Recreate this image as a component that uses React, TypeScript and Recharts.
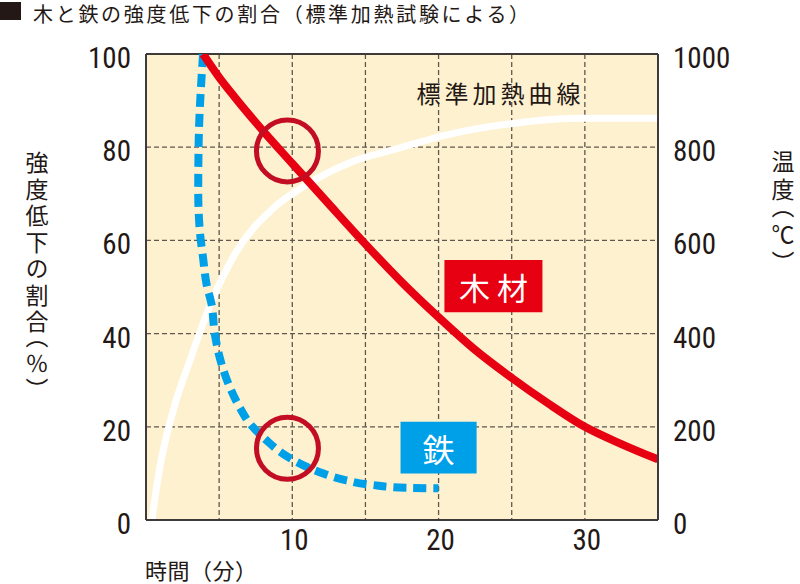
import React from 'react';
import {
  LineChart,
  Line,
  XAxis,
  YAxis,
  CartesianGrid,
  ReferenceLine,
  ReferenceDot,
  ReferenceArea,
} from 'recharts';

// ---- data ----
const woodTime = [3.9, 5, 6, 8, 10, 12.5, 15, 17.5, 20, 22.5, 25, 27.5, 30, 32.5, 35];
const woodStrength = [100, 95, 91, 83.5, 76.5, 67.8, 59.2, 51, 43.5, 36.5, 30.5, 25, 20, 16.3, 13];

const ironTime = [3.9, 3.6, 3.57, 3.68, 3.9, 4.14, 4.48, 4.7, 5.16, 5.73, 6.4, 7.1, 8.23, 9.37, 10.73, 12.1, 13.7, 15.5, 17.8, 20];
const ironStrength = [100, 81, 70.5, 62, 56.3, 50.6, 46.3, 40, 33.5, 28.5, 24.2, 20.7, 17.1, 14.2, 11.8, 10, 8.5, 7.5, 6.9, 6.8];

const heatTime = [0.4, 0.95, 1.86, 3.0, 4.5, 6.2, 8.7, 11.0, 14.1, 17.3, 20.5, 25.1, 29.6, 35];
const heatTemp = [0, 114, 235, 342, 470, 577, 669, 720, 769, 798, 826, 851, 862, 862];

const xTicks = [10, 20, 30];
const gridX = [5, 10, 15, 20, 25, 30];
const gridY = [20, 40, 60, 80];
const pctTicks = [0, 20, 40, 60, 80, 100];
const tempTicks = [0, 200, 400, 600, 800, 1000];

const circleTime = [9.67, 9.67];
const circleStrength = [79.2, 15.4];

const titleText = '木と鉄の強度低下の割合（標準加熱試験による）';
const leftLabelText = '強度低下の割合（％）';
const rightLabelText = '温度（℃）';
const xLabelText = '時間（分）';

const woodData = woodTime.map((t, i) => ({ t, v: woodStrength[i] }));
const ironData = ironTime.map((t, i) => ({ t, v: ironStrength[i] }));
const heatData = heatTime.map((t, i) => ({ t, v: heatTemp[i] }));

// ---- styles ----
const INK = '#231815';
const FRAME = '#3e3a39';
const CREAM = '#FEF1CF';
const RED = '#E60012';
const BLUE = '#00A0E9';
const CIRCLE = '#C30D23';
const GRID = '#5f5750';
const JP = "'Noto Sans CJK JP', 'Noto Sans', sans-serif";
const NUM = "'Liberation Sans Narrow', 'Roboto Condensed', 'DejaVu Sans Condensed', Roboto, sans-serif";

const LeftTick = (props: any) => {
  const { x, y, payload } = props;
  return (
    <text x={x} y={y + 4} textAnchor="end" dominantBaseline="central" fill={INK} fontSize={29} fontFamily={NUM}>
      {payload.value}
    </text>
  );
};

const RightTick = (props: any) => {
  const { x, y, payload } = props;
  return (
    <text x={x} y={y + 4} textAnchor="start" dominantBaseline="central" fill={INK} fontSize={29} fontFamily={NUM}>
      {payload.value}
    </text>
  );
};

const BottomTick = (props: any) => {
  const { x, y, payload } = props;
  return (
    <text x={x + 2} y={y} textAnchor="middle" dominantBaseline="central" fill={INK} fontSize={29} fontFamily={NUM}>
      {payload.value}
    </text>
  );
};

const BoxLabel = (props: any) => {
  const { viewBox, text, size, spacing, color } = props;
  const cx = viewBox.x + viewBox.width / 2;
  const cy = viewBox.y + viewBox.height / 2;
  return (
    <text
      x={cx + (spacing || 0) / 2}
      y={cy}
      textAnchor="middle"
      dominantBaseline="central"
      fill={color}
      fontSize={size}
      fontFamily={JP}
      letterSpacing={spacing}
    >
      {text}
    </text>
  );
};

const VText = ({ text, x, y, spacing }: { text: string; x: number; y: number; spacing: number }) => (
  <text
    x={x}
    y={y}
    fontSize={23}
    fontFamily={JP}
    fill={INK}
    letterSpacing={spacing}
    style={{ writingMode: 'vertical-rl', fontFeatureSettings: '"vhal"' } as any}
  >
    {text}
  </text>
);

export default function App() {
  return (
    <div style={{ position: 'absolute', left: 0, top: 0, width: 800, height: 584, background: '#fff' }}>
      <LineChart width={800} height={584} margin={{ top: 54, right: 0, bottom: 0, left: 0 }}>
        <CartesianGrid
          fill={CREAM}
          stroke={GRID}
          strokeWidth={1.3}
          strokeDasharray="5 3"
          horizontalValues={gridY}
          verticalValues={gridX}
        />
        <XAxis
          type="number"
          dataKey="t"
          domain={[0, 35]}
          ticks={xTicks}
          height={64}
          tickSize={0}
          tickMargin={20}
          tickLine={false}
          axisLine={{ stroke: FRAME, strokeWidth: 2 }}
          tick={<BottomTick />}
          allowDataOverflow
        />
        <YAxis
          type="number"
          domain={[0, 100]}
          ticks={pctTicks}
          width={146}
          tickSize={0}
          tickMargin={15}
          tickLine={false}
          axisLine={{ stroke: FRAME, strokeWidth: 2 }}
          tick={<LeftTick />}
          allowDataOverflow
        />
        <YAxis
          yAxisId="temp"
          orientation="right"
          type="number"
          domain={[0, 1000]}
          ticks={tempTicks}
          width={142}
          tickSize={0}
          tickMargin={15}
          tickLine={false}
          axisLine={{ stroke: FRAME, strokeWidth: 2 }}
          tick={<RightTick />}
          allowDataOverflow
        />
        <ReferenceLine y={100} stroke={FRAME} strokeWidth={2} />
        <ReferenceArea
          x1={18.4}
          x2={29.8}
          y1={88.5}
          y2={95}
          fill="none"
          stroke="none"
          label={<BoxLabel text="標準加熱曲線" size={24} spacing={4} color={INK} />}
        />
        <ReferenceArea
          x1={20.4}
          x2={27.1}
          y1={44.6}
          y2={55.8}
          fill={RED}
          fillOpacity={1}
          stroke="none"
          label={<BoxLabel text="木材" size={31} spacing={7} color="#fff" />}
        />
        <ReferenceArea
          x1={17.4}
          x2={22.6}
          y1={10}
          y2={21.1}
          fill={BLUE}
          fillOpacity={1}
          stroke="none"
          label={<BoxLabel text="鉄" size={32} spacing={0} color="#fff" />}
        />
        <Line
          yAxisId="temp"
          data={heatData}
          dataKey="v"
          type="monotone"
          stroke="#ffffff"
          strokeWidth={7}
          dot={false}
          activeDot={false}
          isAnimationActive={false}
        />
        <Line
          data={ironData}
          dataKey="v"
          type="monotoneY"
          stroke={BLUE}
          strokeWidth={8}
          strokeDasharray="13 7"
          dot={false}
          activeDot={false}
          isAnimationActive={false}
        />
        <Line
          data={woodData}
          dataKey="v"
          type="monotone"
          stroke={RED}
          strokeWidth={8}
          dot={false}
          activeDot={false}
          isAnimationActive={false}
        />
        {circleTime.map((t, i) => (
          <ReferenceDot
            key={i}
            x={t}
            y={circleStrength[i]}
            r={31}
            fill="none"
            stroke={CIRCLE}
            strokeWidth={5}
          />
        ))}
      </LineChart>
      <svg
        width={800}
        height={584}
        style={{ position: 'absolute', left: 0, top: 0, pointerEvents: 'none' }}
      >
        <rect x={0} y={2} width={21} height={18} fill={INK} />
        <text x={33} y={21.5} fontSize={20} fontFamily={JP} fill={INK} letterSpacing={2.7}>
          {titleText}
        </text>
        <VText text={leftLabelText} x={37} y={151} spacing={3.5} />
        <VText text={rightLabelText} x={783} y={150} spacing={5} />
        <text x={145} y={569} dominantBaseline="central" fontSize={22} fontFamily={JP} fill={INK} letterSpacing={0.5}>
          {xLabelText}
        </text>
      </svg>
    </div>
  );
}
